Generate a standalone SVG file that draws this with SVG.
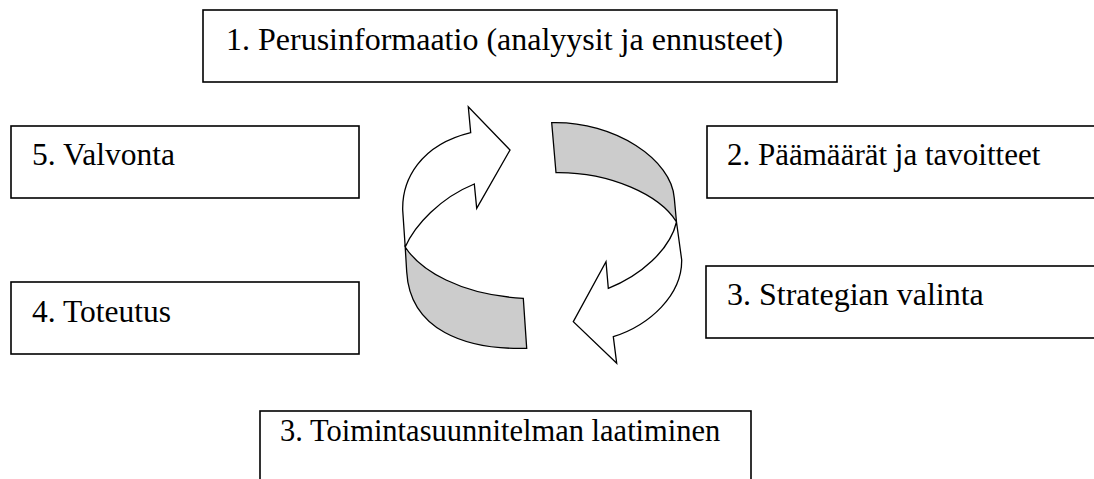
<svg xmlns="http://www.w3.org/2000/svg" width="1094" height="479" viewBox="0 0 1094 479">
<style>
.box{fill:#fff;stroke:#000;stroke-width:1.6}
.w{fill:#fff;stroke:#000;stroke-width:1.3;stroke-linejoin:miter}
.g{fill:#cccccc;stroke:#000;stroke-width:1.3}
</style>
<rect width="1094" height="479" fill="#fff"/>
<g id="node1"><rect class="box" x="203" y="10" width="634" height="72"/><text x="226" y="50" font-size="32" font-family="Liberation Serif" fill="#000">1. Perusinformaatio (analyysit ja ennusteet)</text></g>
<g id="node2"><rect class="box" x="707" y="126" width="400" height="72"/><text x="727" y="165" font-size="31" font-family="Times New Roman" fill="#000">2. Päämäärät ja tavoitteet</text></g>
<g id="node3"><rect class="box" x="706" y="266" width="400" height="72"/><text x="727" y="305" font-size="32" font-family="serif" fill="#000">3. Strategian valinta</text></g>
<g id="node5"><rect class="box" x="11" y="126" width="348" height="72"/><text x="32" y="165" font-size="31.5" font-family="Liberation Serif, serif" fill="#000">5. Valvonta</text></g>
<g id="node4"><rect class="box" x="11" y="282" width="348" height="72"/><text x="32" y="322" font-size="31.5" font-family="Times New Roman, serif" fill="#000">4. Toteutus</text></g>
<g id="node6"><rect class="box" x="260" y="411" width="491" height="90"/><text x="280" y="441" font-size="30.5" font-family="Times, serif" fill="#000">3. Toimintasuunnitelman laatiminen</text></g>
<g id="connectors">
<path class="w" d="M510,150 L468.3,106.7 L470.7,132.7 C420,145 402,180 402.7,210 L405.2,247 C415,225 440,198 474.3,184 L476.7,208.3 Z"/>
<path class="g" d="M405.2,247 C420,270 460,295 523.3,298.3 L526.7,348.3 C465,350 410,330 406.7,271.7 Z"/>
<path class="g" d="M551.7,122.7 C615,121 672,160 674.3,198.3 L676.5,222 C660,195 610,172 556,172.7 Z"/>
<path class="w" d="M676.5,222 C670,250 640,276 608.3,288.3 L606,261.7 L573.3,321.7 L616.7,363.3 L613.3,336.7 C650,325 682,295 681.7,260 Z"/>
</g>
</svg>
